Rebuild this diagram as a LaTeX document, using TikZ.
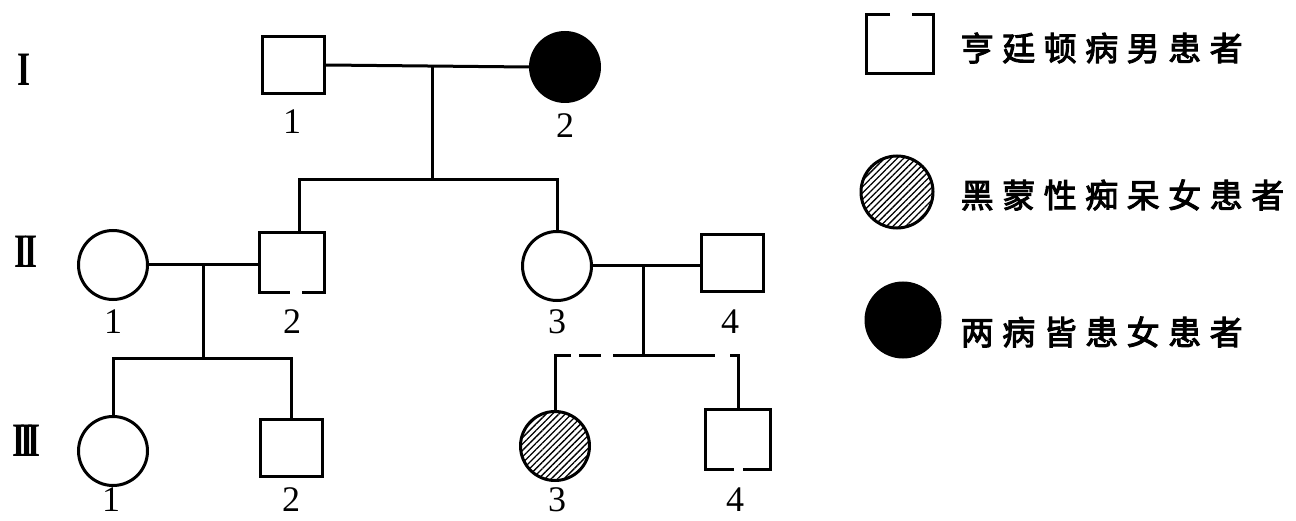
\documentclass[tikz,border=0pt]{standalone}
\usepackage{fontspec}
\setmainfont{Liberation Serif}
\newfontfamily\cjk{Noto Sans CJK SC}[FakeBold=3]
\usetikzlibrary{patterns.meta}
\newcommand\cjc[1]{\makebox[41.5pt][c]{#1}}
\newcommand\romn[1]{\scalebox{0.7}[1]{\bfseries #1}}
\begin{document}
\begin{tikzpicture}[x=1pt,y=-1pt,line width=3pt,
  malebox/.style={draw,rectangle,minimum width=62pt,minimum height=57pt,inner sep=0pt},
  openbox/.style={rectangle,minimum width=62pt,minimum height=57pt,inner sep=0pt},
  femcirc/.style={draw,circle,minimum size=69pt,inner sep=0pt},
  hatched/.style={femcirc,pattern={Lines[angle=45,distance=4.5pt,line width=1.3pt]}},
  gen/.style={font=\fontsize{48}{48}\selectfont,inner sep=0pt},
  num/.style={font=\fontsize{36}{36}\selectfont,inner sep=0pt},
  legtext/.style={font=\cjk\fontsize{33}{33}\selectfont,inner sep=0pt,anchor=west},
]
\useasboundingbox (0,0) rectangle (1296,521);

% generation labels
\node[gen] (gI) at (24,70) {\romn{I}};
\node[gen] (gII) at (26,252) {\romn{I\kern-5pt I}};
\node[gen] (gIII) at (27,441) {\romn{I\kern-8pt I\kern-8pt I}};

% generation I
\node[malebox] (I1) at (293,65) {};
\node[femcirc,fill=black] (I2) at (565,67) {};
\node[num] (nI1) at (292,122) {1};
\node[num] (nI2) at (565,126) {2};

% generation II
\node[femcirc] (II1) at (113,265) {};
\node[openbox] (II2) at (292,263) {};
\node[femcirc] (II3) at (557,266) {};
\node[malebox] (II4) at (732,263) {};
\node[num] (nII1) at (113,322) {1};
\node[num] (nII2) at (292,322) {2};
\node[num] (nII3) at (557,322) {3};
\node[num] (nII4) at (730,322) {4};

% generation III
\node[femcirc] (III1) at (113,451) {};
\node[malebox] (III2) at (291,448) {};
\node[hatched] (III3) at (555,446) {};
\node[openbox] (III4) at (738,439) {};
\node[num] (nIII1) at (111,500) {1};
\node[num] (nIII2) at (291,500) {2};
\node[num] (nIII3) at (557,500) {3};
\node[num] (nIII4) at (735,500) {4};

% open squares with a gap in the bottom edge
\draw ([xshift=10pt]II2.south) -| (II2.north east) -| (II2.south west) -- ([xshift=-2pt]II2.south);
\draw ([xshift=5pt]III4.south) -| (III4.north east) -| (III4.south west) -- ([xshift=-4pt]III4.south);

% generation I mating and sibship
\coordinate (m1) at (432,66);
\coordinate (s1) at (432,180);
\draw (I1.east) -- (I2.west);
\draw (m1) -- (s1);
\draw ([xshift=7pt]II2.north) -- ([xshift=7pt]II2.north |- s1) -- (II3.north |- s1) -- (II3.north);

% II-1 x II-2
\coordinate (m2) at (203,265);
\coordinate (s2) at (203,358);
\draw (II1.east) -- (II2.west |- II1.east);
\draw (m2) -- (s2);
\draw (III1.north) -- (III1.north |- s2) -- (III2.north |- s2) -- (III2.north);

% II-3 x II-4
\coordinate (m3) at (643,265);
\coordinate (s3) at (643,355);
\draw (II3.east) -- (II4.west |- II3.east);
\draw (m3) -- (s3);
\draw (III3.north) -- (III3.north |- s3) -- ++(16,0);
\draw ([xshift=24pt]III3.north |- s3) -- ++(22,0);
\draw ([xshift=58pt]III3.north |- s3) -- (s3) -- ++(72,0);
\draw ([xshift=-8pt]III4.north |- s3) -- (III4.north |- s3) -- (III4.north);

% legend
\node[rectangle,minimum width=64pt,minimum height=56pt,inner sep=0pt] (L1) at (900,44) {};
\draw ([xshift=-10pt]L1.north) -| (L1.south west) -| (L1.north east) -- ([xshift=12pt]L1.north);
\node[hatched,minimum size=72pt] (L2) at (897,192) {};
\node[femcirc,fill=black,minimum size=74pt] (L3) at (903,320) {};
\node[legtext] (T1) at (955,48) {\cjc{亨}\cjc{廷}\cjc{顿}\cjc{病}\cjc{男}\cjc{患}\cjc{者}};
\node[legtext] (T2) at (955,195) {\cjc{黑}\cjc{蒙}\cjc{性}\cjc{痴}\cjc{呆}\cjc{女}\cjc{患}\cjc{者}};
\node[legtext] (T3) at (955,332) {\cjc{两}\cjc{病}\cjc{皆}\cjc{患}\cjc{女}\cjc{患}\cjc{者}};
\end{tikzpicture}
\end{document}
